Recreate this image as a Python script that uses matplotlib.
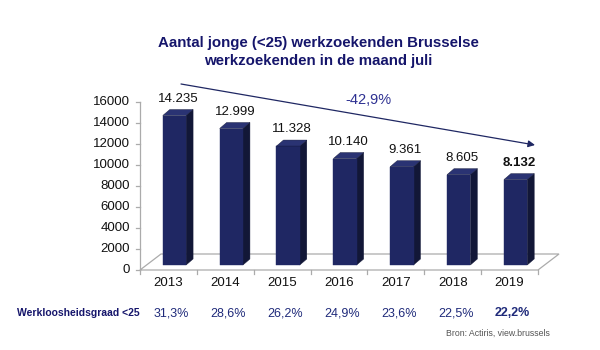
import matplotlib
matplotlib.use("Agg")
import matplotlib.pyplot as plt
from matplotlib.patches import Polygon

plt.rcParams['font.family'] = ['Liberation Sans', 'DejaVu Sans']

years = ["2013", "2014", "2015", "2016", "2017", "2018", "2019"]
values = [14235, 12999, 11328, 10140, 9361, 8605, 8132]
value_labels = ["14.235", "12.999", "11.328", "10.140", "9.361", "8.605", "8.132"]
rates = ["31,3%", "28,6%", "26,2%", "24,9%", "23,6%", "22,5%", "22,2%"]
yticks = [0, 2000, 4000, 6000, 8000, 10000, 12000, 14000, 16000]
change_label = "-42,9%"
title = "Aantal jonge (<25) werkzoekenden Brusselse\nwerkzoekenden in de maand juli"

W, H = 600, 350
fig = plt.figure(figsize=(6, 3.5), dpi=100)
fig.patch.set_facecolor("white")

# plot area in pixels (front plane)
x0, x1 = 140, 538
y0, y1 = 270, 102
ax = fig.add_axes([x0 / W, 1 - y0 / H, (x1 - x0) / W, (y0 - y1) / H])
ax.set_xlim(-0.5, 6.5)
ax.set_ylim(0, 16000)
ax.axis("off")

pxu = (x1 - x0) / 7.0          # pixels per x unit
pyu = (y0 - y1) / 16000.0      # pixels per y unit
def dx(p):
    return p / pxu
def dy(p):
    return p / pyu

navy_front = "#1f2763"
navy_side = "#121737"
navy_top = "#2a3373"
grid_col = "#ababab"

# floor
fdx, fdy = 21, 16
floor = Polygon([(-0.5, 0), (6.5, 0), (6.5 + dx(fdx), dy(fdy)), (-0.5 + dx(fdx), dy(fdy))],
                closed=True, facecolor="white", edgecolor=grid_col, lw=0.9, clip_on=False, zorder=1)
ax.add_patch(floor)

# y axis
ax.plot([-0.5, -0.5], [0, 16000], color=grid_col, lw=0.9, clip_on=False, zorder=1)
for t in yticks:
    ax.plot([-0.5 - dx(4), -0.5], [t, t], color=grid_col, lw=0.9, clip_on=False, zorder=1)
    ax.text(-0.5 - dx(10), t, f"{t}", ha="right", va="center", fontsize=9.5, color="#111111")

# x ticks on floor front edge
for b in range(8):
    xb = -0.5 + b
    ax.plot([xb, xb], [0, -dy(4)], color=grid_col, lw=0.9, clip_on=False, zorder=1)

# bars with pseudo 3D
bw = 0.41
bx, by = 6, 5       # position of bar front face within floor depth (px)
ddx, ddy = 7, 6     # bar depth (px)
xs = list(range(len(years)))
xc = [x + dx(bx) for x in xs]
ax.bar(xc, values, width=bw, bottom=dy(by), color=navy_front, edgecolor=navy_front,
       lw=0.3, zorder=3, clip_on=False)
for xi, v, lab, yr in zip(xc, values, value_labels, years):
    xl, xr = xi - bw / 2, xi + bw / 2
    b = dy(by)
    t = b + v
    side = Polygon([(xr, b), (xr + dx(ddx), b + dy(ddy)), (xr + dx(ddx), t + dy(ddy)), (xr, t)],
                   closed=True, facecolor=navy_side, edgecolor=navy_side, lw=0.3, zorder=2, clip_on=False)
    top = Polygon([(xl, t), (xr, t), (xr + dx(ddx), t + dy(ddy)), (xl + dx(ddx), t + dy(ddy))],
                  closed=True, facecolor=navy_top, edgecolor=navy_side, lw=0.3, zorder=4, clip_on=False)
    ax.add_patch(side)
    ax.add_patch(top)
    bold = (yr == years[-1])
    ax.text(xi + dx(ddx / 2), t + dy(ddy + 5), lab, ha="center", va="bottom", fontsize=9.5,
            fontweight="bold" if bold else "normal", color="#111111")

# x labels
for x, yr in zip(xs, years):
    ax.text(x, -dy(13), yr, ha="center", va="center", fontsize=9.5, color="#111111")

# trend arrow
ax.annotate("", xy=(535 / W, 1 - 145 / H), xytext=(181 / W, 1 - 84 / H),
            xycoords="figure fraction", textcoords="figure fraction",
            arrowprops=dict(arrowstyle="-|>", color="#1f2763", lw=0.9,
                            mutation_scale=10, shrinkA=0, shrinkB=0))
fig.text(368 / W, 1 - 100 / H, change_label, ha="center", va="center", fontsize=10.5, color="#2e3192")

# title
fig.text(318 / W, 1 - 52 / H, title, ha="center", va="center", fontsize=10.8,
         fontweight="bold", color="#15156b", linespacing=1.45)

# rates row
fig.text(17 / W, 1 - 313 / H, "Werkloosheidsgraad <25", ha="left", va="center", fontsize=7.5,
         fontweight="bold", color="#15156b")
for x, r in zip(xs, rates):
    bold = (r == rates[-1])
    px = x0 + (x + 0.5) * pxu + 3
    fig.text(px / W, 1 - 313 / H, r, ha="center", va="center", fontsize=9,
             fontweight="bold" if bold else "normal", color="#1f2a7a")

fig.text(550 / W, 1 - 333 / H, "Bron: Actiris, view.brussels", ha="right", va="center",
         fontsize=6.3, color="#555555")

fig.savefig("out.png", dpi=100, facecolor="white")
